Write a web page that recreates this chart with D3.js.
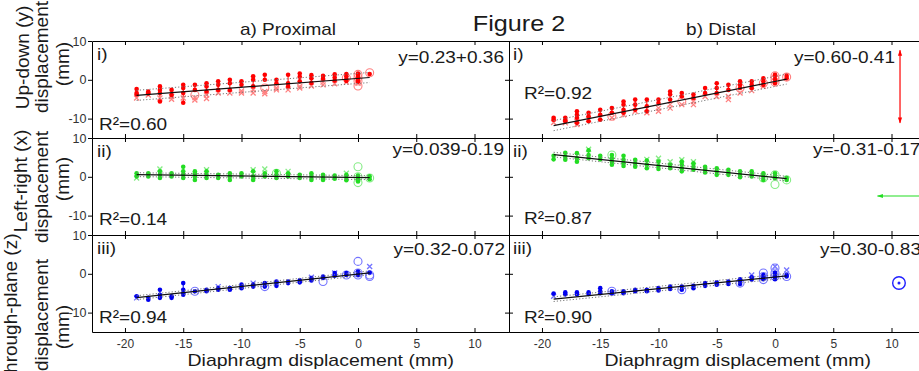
<!DOCTYPE html>
<html>
<head>
<meta charset="utf-8">
<script src="https://cdn.jsdelivr.net/npm/d3@7/dist/d3.min.js"></script>
<style>
html,body{margin:0;padding:0;background:#ffffff;}
svg{display:block;}
text{font-family:"Liberation Sans",Arial,Helvetica,sans-serif;}
</style>
</head>
<body>
<svg id="chart" width="919" height="371"></svg>
<script>
// ---------------- data ----------------
const figureTitle = "Figure 2";
const panelTitles = ["a) Proximal", "b) Distal"];
const rowTags = ["i)", "ii)", "iii)"];
const rowAxisLabels = [
  ["Up-down (y)", "displacement", "(mm)"],
  ["Left-right (x)", "displacement", "(mm)"],
  ["Through-plane (z)", "displacement", "(mm)"]
];
const xAxisLabel = "Diaphragm displacement (mm)";
const xTickValues = [-20, -15, -10, -5, 0, 5, 10];
const yTickValues = [10, 0, -10];
const equationLabels = [["y=0.23+0.36", "y=0.60-0.41"], ["y=0.039-0.19", "y=-0.31-0.17"], ["y=0.32-0.072", "y=0.30-0.83"]];
const r2Labels = [["R²=0.60", "R²=0.92"], ["R²=0.14", "R²=0.87"], ["R²=0.94", "R²=0.90"]];
const fitSlopes = [[0.23, 0.60], [-0.039, -0.31], [0.32, 0.30]];
const fitIntercepts = [[0.36, -0.41], [-0.19, -0.17], [-0.072, -0.83]];
const fitRange = [-19, 1];
const ciHalfWidths = [[1.3, 1.3], [0.5, 0.6], [0.5, 0.6]];

// each column: [diaphragm displacement, filled dots, crosses, open rings]
const proximalUpDown = [
  [-19, [-2.4, -3.4, -3.8], [-4.7], []],
  [-18, [-3.0, -3.5], [-3.9], []],
  [-17, [-1.7, -2.6, -3.4, -5.6], [-4.7], []],
  [-16, [-2.6, -3.9], [-5.0, -4.3], []],
  [-15, [-1.3, -2.1, -3.4, -5.9], [-4.7], []],
  [-14, [-1.3, -2.6], [-4.6, -5.2], [-3.9]],
  [-13, [-0.9, -1.7, -3.0], [-3.9, -4.8], []],
  [-12, [-0.4, -1.3, -2.6], [-3.4], []],
  [-11, [0.0, -0.9, -2.6], [-3.4], []],
  [-10, [-0.4, -1.3], [-3.4, -2.9], []],
  [-9, [0.9, 0.0, -1.7], [-2.6, -3.4], []],
  [-8, [1.3, 0.0], [-3.0, -3.6], [-2.1]],
  [-7, [0.0, -0.9], [-2.6, -2.1], []],
  [-6, [1.3, -0.9, -1.7], [-2.6], []],
  [-5, [1.6, 0.8, -0.4], [-1.7, -2.1], []],
  [-4, [1.2, 0.4, -0.8], [-1.6], []],
  [-3, [1.0, 0.3], [-1.3, -0.6], []],
  [-2, [1.4, 0.6, -0.2], [-1.0], []],
  [-1, [1.5, 0.9, 0.2, -0.3], [-0.6], [0.5]],
  [0, [1.6, 1.0, 0.5, 0.0, -0.5], [-0.9], [1.4, 0.6, -0.3, -1.6]],
  [1, [1.5], [], [1.8]]
];
const distalUpDown = [
  [-19, [-9.8, -10.3], [-11.0], []],
  [-18, [-9.8, -10.3, -10.7], [-11.1], []],
  [-17, [-8.1, -9.0, -9.8, -11.1], [-10.7, -11.5], []],
  [-16, [-8.5, -9.4, -10.7], [-10.2], []],
  [-15, [-7.7, -9.0, -10.3], [-9.8], []],
  [-14, [-7.3, -8.5], [-9.8], [-9.4]],
  [-13, [-5.6, -6.4, -7.7, -8.5], [-9.0], []],
  [-12, [-5.1, -6.4, -7.7], [-8.1], []],
  [-11, [-5.1, -6.8, -8.1], [-8.5], []],
  [-10, [-5.1, -6.0], [-7.3, -8.1], []],
  [-9, [-3.0, -3.8, -5.1], [-6.4, -7.3], []],
  [-8, [-3.4, -4.3], [-6.4], [-5.6]],
  [-7, [-3.8, -4.7], [-5.6, -6.4], []],
  [-6, [-2.1, -3.4], [-4.3], []],
  [-5, [-0.9, -2.1, -3.4], [-4.3], []],
  [-4, [-1.3, -2.6], [-4.3, -5.1], []],
  [-3, [-0.4, -1.3, -2.1], [-3.4], [-2.1]],
  [-2, [-0.4, -1.3, -2.1], [-2.8], []],
  [-1, [0.4, -0.4, -1.3], [-1.7], [-0.9]],
  [0, [1.3, 0.9, 0.0, -0.9], [], [1.0, 0.2, -0.6]],
  [1, [1.0, 0.4], [], [0.7]]
];
const proximalLeftRight = [
  [-19, [0.9, 0.1], [-0.3], []],
  [-18, [0.9, 0.1], [], []],
  [-17, [1.4, 0.5, -0.3], [2.0], []],
  [-16, [0.9, 0.1], [], []],
  [-15, [2.6, 1.4, 0.5, -0.3], [], []],
  [-14, [1.4, 0.9, 0.1, -0.8], [], []],
  [-13, [1.4, 0.5, -0.3], [1.8], []],
  [-12, [0.5, -0.3], [], []],
  [-11, [0.9, 0.1, -0.8], [], []],
  [-10, [0.9, 0.1], [], []],
  [-9, [1.4, 0.1, -0.8], [1.8], []],
  [-8, [0.9, 0.1], [2.0], []],
  [-7, [1.4, 0.5, -0.3], [], [0.9]],
  [-6, [0.9, 0.1], [1.4], []],
  [-5, [0.5, -0.3], [], []],
  [-4, [0.9, 0.1, -0.8], [], []],
  [-3, [0.5, -0.3, -0.8], [], []],
  [-2, [0.3, -0.5], [], []],
  [-1, [0.5, -0.2, -0.9], [0.9], []],
  [0, [0.3, -0.3, -0.8, -1.2], [], [2.6, 0.0, -1.5]],
  [1, [0.1, -0.6], [], [-0.3]]
];
const distalLeftRight = [
  [-19, [5.4, 4.5], [], []],
  [-18, [6.2, 5.2, 4.4], [], []],
  [-17, [6.1, 4.8, 3.9], [], []],
  [-16, [6.8, 5.6, 4.8], [7.1], []],
  [-15, [5.4, 4.5], [], []],
  [-14, [5.6, 4.8, 3.9, 3.1], [], [5.6]],
  [-13, [5.4, 4.4, 3.5, 2.8], [], []],
  [-12, [4.4, 3.5, 2.6], [], []],
  [-11, [4.2, 3.1, 2.2], [4.5], []],
  [-10, [3.9, 2.8, 2.0], [4.8], []],
  [-9, [3.1, 2.2], [3.9], []],
  [-8, [3.9, 3.1, 2.2, 1.4], [4.4], []],
  [-7, [3.5, 2.6, 1.8], [3.9], []],
  [-6, [2.6, 1.8, 1.1], [], []],
  [-5, [2.2, 1.4, 0.5], [], []],
  [-4, [1.8, 1.1, 0.5], [], []],
  [-3, [1.4, 0.5, -0.1], [], []],
  [-2, [1.4, 0.8, 0.1], [], []],
  [-1, [0.9, 0.1, -0.8], [], [-0.3]],
  [0, [0.9, 0.3, -0.3], [], [0.5, -2.0]],
  [1, [-0.3, -0.8], [], [-0.8]]
];
const proximalThrough = [
  [-19, [-5.8], [-6.2], []],
  [-18, [-6.2, -6.7], [], []],
  [-17, [-4.1, -5.4, -6.2], [], []],
  [-16, [-5.8, -6.2], [], []],
  [-15, [-2.4, -4.1, -5.0, -5.4], [], []],
  [-14, [-4.5], [], [-4.5]],
  [-13, [-4.1, -4.5], [], []],
  [-12, [-3.7, -4.1], [-3.3], []],
  [-11, [-3.7, -4.1], [], []],
  [-10, [-2.8, -3.3, -3.7], [], []],
  [-9, [-2.8, -3.3], [-2.4], []],
  [-8, [-2.4, -3.3], [], [-3.3]],
  [-7, [-2.0, -2.4, -3.1], [], []],
  [-6, [-2.0, -2.4], [], []],
  [-5, [-1.7, -2.2], [], []],
  [-4, [-1.1, -1.7], [-0.9], []],
  [-3, [-0.7, -1.1], [], [-2.0]],
  [-2, [0.2, -0.5], [0.2], []],
  [-1, [0.2, -0.3], [], [-0.3]],
  [0, [0.6, 0.2, -0.3], [], [3.2, 0.2, -0.3]],
  [1, [0.3], [1.9], [-0.3, -0.7]]
];
const distalThrough = [
  [-19, [-5.1], [-5.8], []],
  [-18, [-4.8, -5.3], [], []],
  [-17, [-4.8, -5.3], [], []],
  [-16, [-4.8, -5.2], [], []],
  [-15, [-3.7, -4.5, -5.0], [], []],
  [-14, [-4.5, -5.0], [], [-4.5]],
  [-13, [-4.5, -5.0], [], []],
  [-12, [-4.1, -4.5], [], []],
  [-11, [-4.1, -4.5], [], []],
  [-10, [-3.7, -4.3], [], []],
  [-9, [-3.3, -3.9], [], []],
  [-8, [-3.3, -4.1], [], [-4.1]],
  [-7, [-3.1, -3.7], [], []],
  [-6, [-2.4, -3.1], [], []],
  [-5, [-2.2, -2.8], [], []],
  [-4, [-2.0, -2.6], [], []],
  [-3, [-1.4, -2.0, -2.6], [], [-2.4]],
  [-2, [-0.9, -1.5], [-0.3], []],
  [-1, [-0.3, -0.9, -1.4], [], [0.2, -0.7, -1.5]],
  [0, [0.3, -0.3, -0.9, -1.4], [1.9], [1.5, 0.2, -0.7]],
  [1, [-0.3, -0.7], [1.0], [-0.7]]
];

// ---------------- layout ----------------
const svg = d3.select("#chart");
const SX = 1.12;
const INK = "#1a1a1a";
const panelLeft = [92, 509], panelWidth = 417;
const rowTop = [41, 138, 235], rowHeight = 97;
const xDomain = [-22.83, 12.96], yDomain = [-15, 10];
const xScales = panelLeft.map(l => d3.scaleLinear().domain(xDomain).range([l, l + panelWidth]));
const yScales = rowTop.map(t => d3.scaleLinear().domain(yDomain).range([t + rowHeight, t]));
const panelData = [[proximalUpDown, distalUpDown], [proximalLeftRight, distalLeftRight], [proximalThrough, distalThrough]];
const palette = [["#ff0000", "#ff7f7f"], ["#22dd22", "#86ec86"], ["#0000ee", "#7474ff"]];

function addText(str, x, y, size, anchor, opts = {}) {
  return svg.append("text")
    .attr("transform", `translate(${x},${y})` + (opts.rotate ? " rotate(-90)" : "") + ` scale(${opts.sx ?? SX},1)`)
    .attr("text-anchor", anchor)
    .attr("font-size", size)
    .attr("fill", opts.fill || INK)
    .text(str);
}

// ---------------- markers ----------------
panelData.forEach((row, r) => row.forEach((cols, p) => {
  const x = xScales[p], y = yScales[r];
  const [dark, light] = palette[r];
  const g = svg.append("g");
  g.selectAll("line.stalk").data(cols.filter(c => c[1].length > 1)).join("line")
    .attr("class", "stalk")
    .attr("x1", c => x(c[0])).attr("x2", c => x(c[0]))
    .attr("y1", c => y(d3.max(c[1]))).attr("y2", c => y(d3.min(c[1])))
    .attr("stroke", dark).attr("stroke-width", 1);
  const crosses = cols.flatMap(c => c[2].map(v => [c[0], v]));
  g.selectAll("path.cross").data(crosses).join("path")
    .attr("class", "cross")
    .attr("d", d => { const cx = x(d[0]), cy = y(d[1]), s = 2.5; return `M${cx - s},${cy - s}L${cx + s},${cy + s}M${cx - s},${cy + s}L${cx + s},${cy - s}`; })
    .attr("stroke", light).attr("stroke-width", 1.3).attr("fill", "none");
  const rings = cols.flatMap(c => c[3].map(v => [c[0], v]));
  g.selectAll("circle.ring").data(rings).join("circle")
    .attr("class", "ring")
    .attr("cx", d => x(d[0])).attr("cy", d => y(d[1])).attr("r", 4)
    .attr("fill", "none").attr("stroke", light).attr("stroke-width", 1.1);
  const dots = cols.flatMap(c => c[1].map(v => [c[0], v]));
  g.selectAll("circle.dot").data(dots).join("circle")
    .attr("class", "dot")
    .attr("cx", d => x(d[0])).attr("cy", d => y(d[1])).attr("r", 2.3)
    .attr("fill", dark);

  // fit line and band
  const m = fitSlopes[r][p], b = fitIntercepts[r][p], h = ciHalfWidths[r][p];
  [h, -h].forEach(off => {
    g.append("line")
      .attr("x1", x(fitRange[0])).attr("x2", x(fitRange[1]))
      .attr("y1", y(m * fitRange[0] + b + off)).attr("y2", y(m * fitRange[1] + b + off))
      .attr("stroke", "#777").attr("stroke-width", 1).attr("stroke-dasharray", "1.2,2");
  });
  g.append("line")
    .attr("x1", x(fitRange[0])).attr("x2", x(fitRange[1]))
    .attr("y1", y(m * fitRange[0] + b)).attr("y2", y(m * fitRange[1] + b))
    .attr("stroke", "#111").attr("stroke-width", 1.2);
}));

// ---------------- axes ----------------
function styleAxis(g, labelSize) {
  g.attr("font-family", null).attr("font-size", labelSize);
  g.selectAll("path.domain").attr("stroke", "#000").attr("stroke-width", 1);
  g.selectAll(".tick line").attr("stroke", "#000");
  g.selectAll(".tick text").attr("fill", "#333");
}
const minusFormat = d => d < 0 ? "-" + Math.abs(d) : String(d);
rowTop.forEach((top, r) => {
  panelLeft.forEach((left, p) => {
    const xs = xScales[p];
    svg.append("g").attr("transform", `translate(0,${top})`)
      .call(d3.axisTop(xs).tickValues(xTickValues).tickSize(-4).tickSizeOuter(0).tickFormat(""))
      .call(g => styleAxis(g, 12));
    const bottom = svg.append("g").attr("transform", `translate(0,${top + rowHeight})`)
      .call(d3.axisBottom(xs).tickValues(xTickValues).tickSize(-4).tickSizeOuter(0).tickPadding(7)
        .tickFormat(r === 2 ? minusFormat : ""));
    styleAxis(bottom, 12);
    const ys = yScales[r];
    const yl = svg.append("g").attr("transform", `translate(${left},0)`)
      .call(d3.axisLeft(ys).tickValues(yTickValues).tickSize(4).tickSizeOuter(0).tickPadding(1.5)
        .tickFormat(p === 0 ? minusFormat : ""));
    styleAxis(yl, 12.5);
    if (p === 1) {
      const yr = svg.append("g").attr("transform", `translate(${left},0)`)
        .call(d3.axisRight(ys).tickValues(yTickValues).tickSize(4).tickSizeOuter(0).tickFormat(""));
      styleAxis(yr, 12.5);
    }
  });
});

// ---------------- text ----------------
addText(figureTitle, 519, 31, 22.5, "middle");
addText(panelTitles[0], 288, 35, 17, "middle");
addText(panelTitles[1], 721, 35, 17, "middle");

const tagBase = [60, 157, 254];
const eqBase = [63, 155, 255];
const eqLeftEnd = [504, 504, 505];
const eqRight = [[895, "end"], [813, "start"], [820, "start"]];
const r2Base = [[130, 99], [225, 224], [323, 323]];
rowTop.forEach((top, r) => {
  addText(rowTags[r], panelLeft[0] + 5, tagBase[r], 17, "start");
  addText(rowTags[r], panelLeft[1] + 4, tagBase[r], 17, "start");
  addText(equationLabels[r][0], eqLeftEnd[r], eqBase[r], 17, "end");
  addText(equationLabels[r][1], eqRight[r][0], eqBase[r], 17, eqRight[r][1]);
  addText(r2Labels[r][0], panelLeft[0] + 7, r2Base[r][0], 17, "start");
  addText(r2Labels[r][1], panelLeft[1] + 15, r2Base[r][1], 17, "start");
});

// rotated row labels
const rowLabelX = [[28.5, 47.5, 69], [27, 47.5, 69], [17, 47.5, 69]];
const rowLabelY = [[57.5, 57, 64], [181, 187, 179], [309, 315, 327]];
rowAxisLabels.forEach((lines, r) => lines.forEach((str, i) => {
  addText(str, rowLabelX[r][i], rowLabelY[r][i], 19, "middle", { rotate: true, sx: 1 });
}));

// x axis titles
addText(xAxisLabel, xScales[0](-3.2), 366, 17.4, "middle");
addText(xAxisLabel, xScales[1](-3.2), 366, 17.4, "middle");

// ---------------- direction indicators ----------------
const defs = svg.append("defs");
[["headRed", "#ff0000"], ["headGreen", "#22dd22"]].forEach(([id, c]) => {
  defs.append("marker").attr("id", id).attr("viewBox", "0 0 10 10").attr("refX", 9).attr("refY", 5)
    .attr("markerWidth", 7).attr("markerHeight", 5).attr("orient", "auto-start-reverse")
    .append("path").attr("d", "M0,1.5L10,5L0,8.5Z").attr("fill", c);
});
svg.append("line")
  .attr("x1", xScales[1](10.73)).attr("x2", xScales[1](10.73))
  .attr("y1", yScales[0](7.6)).attr("y2", yScales[0](-11.1))
  .attr("stroke", "#ff0000").attr("stroke-width", 1.2)
  .attr("marker-start", "url(#headRed)").attr("marker-end", "url(#headRed)");
svg.append("line")
  .attr("x1", xScales[1](8.8)).attr("x2", xScales[1](13.2))
  .attr("y1", yScales[1](-4.95)).attr("y2", yScales[1](-4.95))
  .attr("stroke", "#22dd22").attr("stroke-width", 1.2)
  .attr("marker-start", "url(#headGreen)");
svg.append("circle")
  .attr("cx", xScales[1](10.64)).attr("cy", yScales[2](-2.37)).attr("r", 6.3)
  .attr("fill", "none").attr("stroke", "#2020ff").attr("stroke-width", 1.4);
svg.append("circle")
  .attr("cx", xScales[1](10.64)).attr("cy", yScales[2](-2.37)).attr("r", 1.5)
  .attr("fill", "#2020ff");
</script>
</body>
</html>
